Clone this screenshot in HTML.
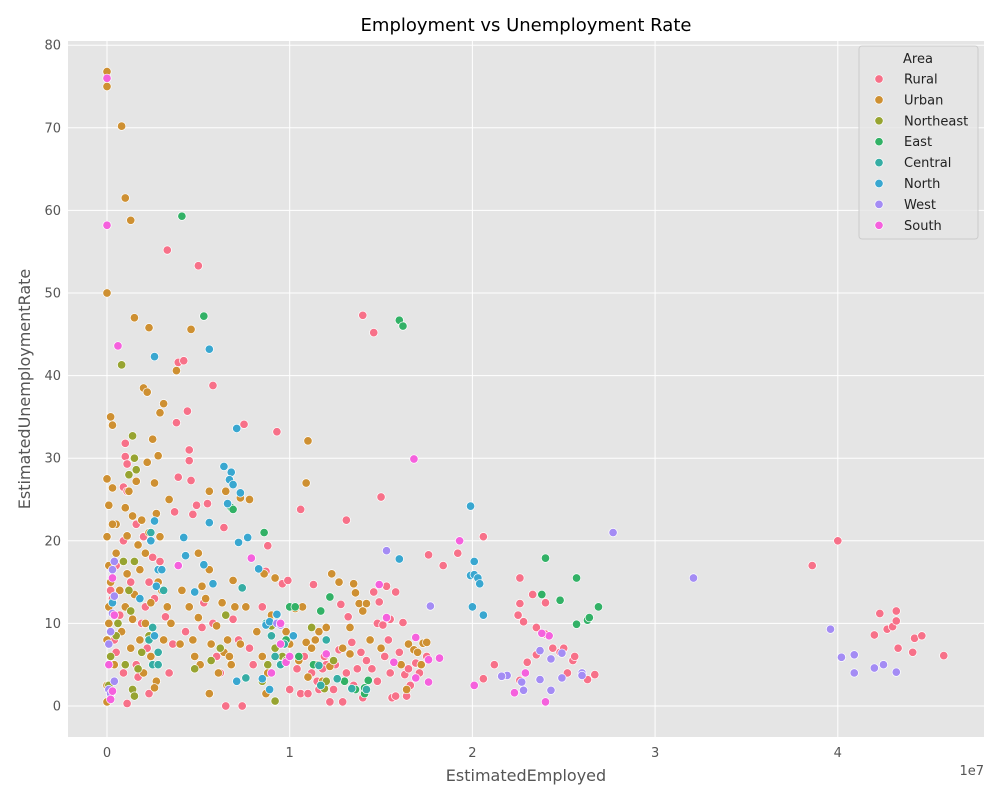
<!DOCTYPE html>
<html><head><meta charset="utf-8"><style>
body{margin:0;background:#fff;font-family:"Liberation Sans","DejaVu Sans",sans-serif}
</style></head><body>
<svg id="chart" width="1000" height="800" xmlns="http://www.w3.org/2000/svg" style="font-family:'DejaVu Sans','Liberation Sans',sans-serif">
<rect x="0" y="0" width="1000" height="800" fill="#fff"/>
<rect x="68" y="41" width="916" height="696" fill="#e5e5e5"/>
<g id="grid"></g>
<g id="ticks"></g>
<g id="points"></g>
<text x="526" y="31" font-size="18" text-anchor="middle" fill="#000">Employment vs Unemployment Rate</text>
<text x="526" y="781" font-size="16" text-anchor="middle" fill="#555">EstimatedEmployed</text>
<text x="30" y="389" font-size="16" text-anchor="middle" fill="#555" transform="rotate(-90 30 389)">EstimatedUnemploymentRate</text>
<text x="984" y="775" font-size="13" text-anchor="end" fill="#555">1e7</text>
<g id="legend">
<rect x="859" y="46" width="119" height="193" rx="3" fill="#e5e5e5" fill-opacity="0.8" stroke="#ccc"/>
<text x="918" y="63" font-size="13" text-anchor="middle" fill="#222">Area</text>
</g>
</svg>
<script>
const xTicks=[0,1,2,3,4];
const yTicks=[0,10,20,30,40,50,70,60,80];
const seriesNames=["Rural","Urban","Northeast","East","Central","North","West","South"];
const seriesColors=["#f77189","#ce9032","#97a431","#32b166","#36ada4","#39a7d0","#a48cf4","#f561dd"];
const rural=[[38.6,17],[40,20],[42,8.6],[42.3,11.2],[42.7,9.3],[43,9.6],[43.2,10.3],[43.2,11.5],[43.3,7],[44.1,6.5],[44.2,8.2],[44.6,8.5],[45.8,6.1],[14,47.3],[14.6,45.2],[13.1,22.5],[10.6,23.8],[15,25.3],[17.6,18.3],[18.4,17],[19.2,18.5],[20.6,20.5],[22.5,11],[22.8,10.2],[22.6,15.5],[22.6,12.4],[23.5,9.5],[23.3,13.5],[24,12.5],[24,8.7],[24.4,7],[24.8,6.5],[25,7],[25.5,5.5],[25.6,6],[25.2,4],[26.3,3.2],[26.7,3.8],[23,5.3],[23.5,6.2],[21.2,5],[22.6,3.1],[20.6,3.3],[3.9,41.6],[4.2,41.8],[3.8,34.3],[4.4,35.7],[4.5,31],[4.5,29.7],[4.6,27.3],[3.9,27.7],[3.7,23.5],[4.7,23.2],[4.9,24.3],[5.5,24.5],[5.8,38.8],[5,53.3],[3.3,55.2],[7.5,34.1],[9.3,33.2],[6.4,21.6],[8.8,19.4],[1,31.8],[1,30.2],[1.1,29.3],[0.9,26.5],[1.1,26],[0.9,20],[0.5,17],[0.3,13],[0.1,10],[0.5,6.5],[0.9,4],[1.1,0.3],[1.7,3.5],[2.3,1.5],[1.9,10],[2.1,12],[2.3,15],[2.9,17.5],[3.2,10.8],[3.6,7.5],[4.3,9],[5.2,9.5],[5.3,12.5],[5.8,10],[6,6],[6.5,0],[7.4,0],[6.9,10.5],[7.2,8],[7.8,7],[8.5,12],[8.7,16.3],[9.6,14.8],[9.9,15.2],[10,2],[10.6,1.5],[11,1.5],[11.3,14.7],[11.2,4],[11.6,2],[12.2,0.5],[12.5,5],[12.9,0.5],[12.8,12.3],[13.2,10.8],[13.4,7.7],[13.9,6.5],[14.2,5.5],[14.5,4.5],[14.6,13.8],[14.8,10],[14.9,12.6],[15.1,9.8],[15.3,14.5],[15.5,4],[15.4,8],[15.5,10.5],[15.6,1],[15.8,13.8],[16,6.5],[16.2,10.1],[16.3,3.8],[16.4,1.2],[16.5,4.5],[16.9,5.2],[17.5,6],[15.8,1.2],[13.7,4.5],[13.5,2.5],[12,5],[11.5,3],[2,20.5],[2.5,18],[1.6,22],[6.2,4],[8,5],[10.4,4.5],[11.9,6],[0.2,14],[0.4,8],[0.7,11],[1.3,15],[1.6,5],[2.2,7],[2.6,13],[3.4,4],[10.8,6],[11.8,4.5],[12.4,2],[12.7,6.8],[13.1,4],[14,1],[14.8,3],[15.2,6],[16.6,2.5],[17.1,4]];
const urban=[[0,76.8],[0,75],[0.8,70.2],[1,61.5],[1.3,58.8],[0,50],[1.5,47],[2.3,45.8],[4.6,45.6],[3.8,40.6],[2,38.5],[2.2,38],[3.1,36.6],[2.9,35.5],[0.2,35],[0.3,34],[2.5,32.3],[11,32.1],[2.8,30.3],[10.9,27],[7.3,25.2],[7.8,25],[6.5,26],[5.6,26],[3.4,25],[0,27.5],[0.3,26.4],[0.1,24.3],[0,20.5],[0.5,22],[1,24],[1.1,20.6],[1.6,27.2],[2.2,29.5],[2.6,27],[2.9,20.5],[2.7,23.3],[2.3,21],[1.8,16.5],[2.1,18.5],[0.1,17],[0.2,15],[0.1,10],[0,8],[0.2,5],[0,2.5],[0,0.5],[1,12],[1.4,10.5],[1.8,8],[2.4,6],[2.7,3],[2.6,2.2],[3.5,10],[4,7.5],[4.5,12],[5,10.7],[5.2,14.5],[5.6,16.5],[5,18.5],[5.4,13],[5.7,7.5],[5.6,1.5],[6,9.7],[6.3,12.5],[6.6,8],[6.8,5],[7.3,7.5],[8.5,6],[8.8,4],[8.7,1.5],[9.2,15.5],[9.5,5],[10,7.5],[10.3,11.8],[10.9,7.7],[11.4,8],[12,9.5],[12.3,16],[12.7,15],[13.5,14.8],[13.6,13.7],[13.8,12.4],[14,11.5],[14.2,12.4],[13.3,6.3],[12.2,4.8],[11.8,3],[11,3.5],[16.5,7.5],[16.8,6.8],[17.3,7.6],[17.5,7.7],[17,6.5],[16.4,2],[3.9,17],[4.1,14],[6.9,15.2],[1.5,13.5],[0.5,18.5],[1.2,26],[3,14],[1.9,22.5],[0.7,14],[1.3,7],[2,4],[3.3,12],[4.8,6],[6.4,6.5],[7.6,12],[8.6,16],[10.5,5.5],[11.2,7],[2.4,12.5],[1.7,19.5],[0.1,12],[0.3,22],[0.4,5],[0.8,9],[1.1,16],[1.4,23],[2.1,10],[2.8,15],[3.1,8],[4.7,8],[5.1,5],[6.1,4],[6.7,6],[7,12],[8.2,9],[9,11],[9.8,9],[10.7,12],[11.6,9],[12.9,7],[13.3,9.5],[14.4,8],[15,7],[16.1,5],[17.2,5]];
const northeast=[[0.8,41.3],[1.4,32.7],[1.5,30],[1.6,28.6],[1.2,28],[0.9,17.5],[1.5,17.5],[1.3,11.5],[0.5,8.5],[0.2,6],[0.1,2.5],[0.2,1.2],[1.4,2],[1.5,1.2],[1.7,4.5],[1.9,6.5],[2.3,8.5],[9.2,0.6],[8.5,3],[8.8,5],[9.2,7],[9.6,6],[9,9.7],[9.8,5.5],[11.2,9.5],[11.5,5],[11.9,2.1],[12,3],[12.4,5.5],[6.5,11],[6.2,7],[5.7,5.5],[4.8,4.5],[1,5],[1.2,14],[0.6,10]];
const east=[[4.1,59.3],[5.3,47.2],[16,46.7],[16.2,46],[6.8,24],[6.9,23.8],[8.6,21],[9.3,11],[10,12],[10.3,12],[11.7,11.5],[12.2,13.2],[9.8,8],[10.5,6],[11.3,5],[13,3],[13.6,2],[14.1,1.5],[14.3,3.1],[14.1,2.2],[24,17.9],[23.8,13.5],[24.8,12.8],[25.7,15.5],[25.7,9.9],[26.3,10.4],[26.4,10.7],[26.9,12]];
const central=[[2.4,21],[2.3,8],[2.5,5],[2.8,5],[2.8,6.5],[3.1,14],[7.4,14.3],[7.6,3.4],[8.7,10],[9,8.5],[9.2,6],[9.5,5],[9.7,7.5],[12,8],[11.6,4.9],[11.7,2.5],[13.4,2.1],[14.2,2],[12.6,3.3],[2.5,9.5]];
const north=[[2.6,42.3],[5.6,43.2],[4.2,20.4],[4.3,18.2],[2.6,22.4],[2.8,16.5],[3,16.5],[2.4,20],[2.7,14.5],[6.4,29],[6.8,28.3],[6.7,27.4],[6.9,26.8],[7.1,33.6],[7.2,19.8],[7.3,25.8],[7.7,20.4],[8.3,16.6],[5.8,14.8],[5.3,17.1],[5.6,22.2],[4.8,13.8],[6.6,24.5],[8.7,9.8],[8.9,10.2],[9.3,11.1],[8.5,3.3],[8.9,2],[10.2,8.5],[19.9,24.2],[19.9,15.8],[20.1,15.9],[20.3,15.5],[20.4,14.8],[20.6,11],[20,12],[16,17.8],[20.1,17.5],[2.6,8.5],[1.8,13],[7.1,3],[0.3,12.5]];
const west=[[0.3,16.5],[0.3,11.2],[0.2,9],[0.4,13.3],[0.1,2],[0.2,1.5],[0.4,3],[9.3,10],[9.5,9.8],[15.3,18.8],[17.7,12.1],[27.7,21],[32.1,15.5],[39.6,9.3],[40.2,5.9],[40.9,6.2],[40.9,4],[42,4.6],[42.5,5],[43.2,4.1],[21.9,3.7],[22.7,2.9],[22.8,1.9],[23.7,6.7],[23.7,3.2],[24.3,5.7],[24.3,1.9],[24.9,6.4],[24.9,3.4],[26,4],[26,3.7],[21.6,3.6],[0.4,17.5],[0.1,7.5]];
const south=[[0,76],[0,58.2],[0.6,43.6],[16.8,29.9],[19.3,20],[7.9,17.9],[0.3,15.5],[0.4,11],[0.1,5],[0.3,1.8],[0.2,0.8],[9,4],[9.5,7.5],[9.8,5.3],[10,6],[12,6.3],[15.3,10.7],[14.9,14.7],[16.9,8.3],[17.6,5.6],[18.2,5.8],[17.6,2.9],[15.7,5.3],[16.9,3.4],[20.1,2.5],[22.3,1.6],[22.9,4],[24.2,8.5],[23.8,8.8],[24,0.5],[3.9,17],[9.5,10]];
const seriesData=[rural,urban,northeast,east,central,north,west,south];
const NS="http://www.w3.org/2000/svg";
const xScale=v=>107+v*18.27;   // v in millions
const yScale=v=>706-v*8.26;
function mk(tag,attrs,parent){const e=document.createElementNS(NS,tag);for(const k in attrs)e.setAttribute(k,attrs[k]);parent.appendChild(e);return e;}
const grid=document.getElementById('grid'),ticks=document.getElementById('ticks'),pts=document.getElementById('points'),leg=document.getElementById('legend');
xTicks.forEach(t=>{const x=xScale(t*10);
 const l=mk('line',{x1:x,x2:x,y1:41,y2:737,stroke:'#fff','stroke-width':1},grid);
 
 
 const tx=mk('text',{x:x,y:757,'font-size':13,'text-anchor':'middle',fill:'#555'},ticks);
 tx.textContent=t;
 
 
});
yTicks.forEach(t=>{const y=yScale(t);
 const l=mk('line',{x1:68,x2:984,y1:y,y2:y,stroke:'#fff','stroke-width':1},grid);
 
 
 const tx=mk('text',{x:61,y:y+4.5,'font-size':13,'text-anchor':'end',fill:'#555'},ticks);
 tx.textContent=t;
 
 
});
seriesData.forEach((arr,i)=>{
 arr.forEach(p=>{
  const c=mk('circle',{cx:xScale(p[0]),cy:yScale(p[1]),r:4.2,fill:seriesColors[i],stroke:'#fff','stroke-width':0.7},pts);
  
  
 });
 const y=79+i*20.9;
 const m=mk('circle',{cx:879,cy:y,r:4.2,fill:seriesColors[i],stroke:'#fff','stroke-width':0.7},leg);
 
 
 const t=mk('text',{x:904,y:y+4.5,'font-size':13,fill:'#222'},leg);
 t.textContent=seriesNames[i];
 
 
});
</script>
</body></html>
